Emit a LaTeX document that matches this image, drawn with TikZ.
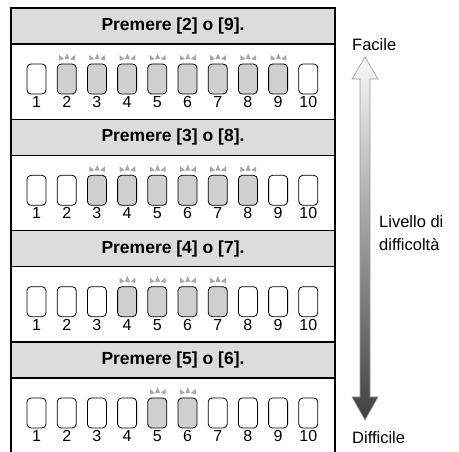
\documentclass[tikz,border=0pt]{standalone}
\usepackage{fontspec}
\setmainfont{Liberation Sans}
\definecolor{hdrgray}{HTML}{DCDCDC}
\definecolor{keygray}{HTML}{CFCFCF}
\definecolor{sparkgray}{HTML}{A8A8A8}
\begin{document}
\begin{tikzpicture}[x=1pt,y=-1pt,
  frame/.style={line width=1.6pt},
  keyoff/.style={draw=black, line width=0.8pt, rounded corners=4pt, fill=white,
     minimum width=19pt, minimum height=30pt, inner sep=0pt},
  keyon/.style={keyoff, fill=keygray},
  spark/.style={fill=sparkgray, draw=none},
  num/.style={font=\fontsize{16}{18}\selectfont, anchor=base, inner sep=0pt},
  title/.style={font=\bfseries\fontsize{17.5}{20}\selectfont, inner sep=0pt},
  lab/.style={font=\fontsize{16.5}{23}\selectfont, anchor=west, inner sep=0pt, align=left}
]
\useasboundingbox (0,0) rectangle (459,452);
% sections
\foreach \r in {0,1,2,3} {
  \pgfmathsetmacro\yt{8+111.33*\r}
  \pgfmathtruncatemacro\lo{\r+2}
  \pgfmathtruncatemacro\hi{9-\r}
  \fill[hdrgray] (11,\yt) rectangle (335,\yt+36);
  \draw[frame] (11,\yt) -- (335,\yt) (11,\yt+36) -- (335,\yt+36);
  \node[title] (h\r) at (173,\yt+18) {Premere [\lo] o [\hi].};
  \foreach \i in {1,...,10} {
    \pgfmathsetmacro\cx{36.5+30.2*(\i-1)}
    \pgfmathtruncatemacro\on{and(\i>=\lo,\i<=\hi)}
    \ifnum\on=1
      \node[keyon] (k\r-\i) at (\cx,\yt+71) {};
      \fill[spark] (\cx-7.5,\yt+47) -- (\cx-2.5,\yt+51) -- (\cx-7.5,\yt+52.5) -- cycle;
      \fill[spark] (\cx+0.3,\yt+45.3) -- (\cx+2.8,\yt+51.2) -- (\cx-2.2,\yt+51.2) -- cycle;
      \fill[spark] (\cx+8.3,\yt+47) -- (\cx+3.3,\yt+51) -- (\cx+8.3,\yt+52.5) -- cycle;
    \else
      \node[keyoff] (k\r-\i) at (\cx,\yt+71) {};
    \fi
    \node[num] (n\r-\i) at (\cx,\yt+99.6) {\i};
  }
}
\draw[frame] (11,460) -- (11,8) -- (335,8) -- (335,460);
% difficulty arrow
\coordinate (atop) at (365,57);
\coordinate (abot) at (365,420);
\shade[top color=black!3, bottom color=black!75, draw=black!40, line width=0.6pt]
  (atop) -- (378,79) -- (370,79) -- (370,397) -- (378,397) -- (abot)
  -- (352,397) -- (360,397) -- (360,79) -- (352,79) -- cycle;
\node[lab] (fac) at (352,45) {Facile};
\node[lab] (liv) at (379,233.5) {Livello di\\difficoltà};
\node[lab] (dif) at (352,438) {Difficile};
\end{tikzpicture}
\end{document}
